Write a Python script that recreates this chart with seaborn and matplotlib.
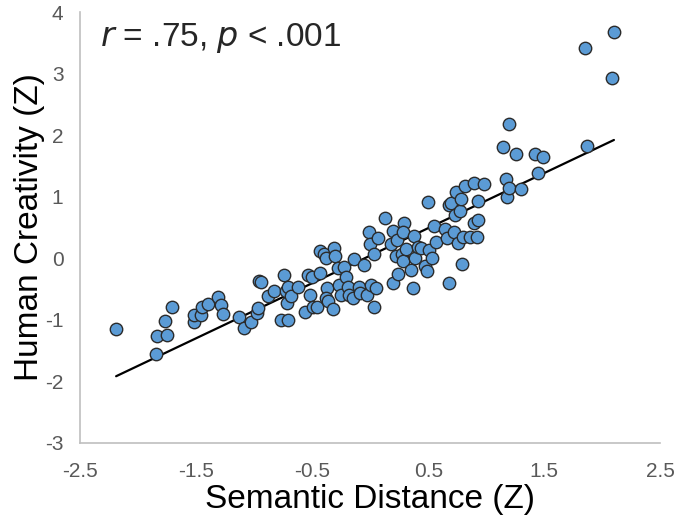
"""
Dispersão: distância semântica vs. criatividade humana (escores Z).
"""

import numpy as np
import pandas as pd
import matplotlib
matplotlib.use("Agg")
import matplotlib.pyplot as plt
import seaborn as sns

# Valores
semantic_distance = [
    -2.19, -1.84, -1.75, -1.77, -1.71, -1.85, -1.52, -1.52, -1.46, -1.45,
    -1.40, -1.31, -1.29, -1.27, -1.13, -1.09, -1.03, -0.98, -0.97, -0.96,
    -0.94, -0.88, -0.83, -0.77, -0.71, -0.74, -0.73, -0.72, -0.71, -0.68,
    -0.62, -0.56, -0.54, -0.52, -0.50, -0.49, -0.46, -0.43, -0.43, -0.40,
    -0.38, -0.37, -0.38, -0.36, -0.32, -0.31, -0.30, -0.28, -0.27, -0.25,
    -0.23, -0.21, -0.19, -0.18, -0.15, -0.14, -0.10, -0.09, -0.05, -0.03,
    -0.01, 0.00, 0.01, 0.03, 0.03, 0.05, 0.07, 0.13, 0.18, 0.20,
    0.20, 0.22, 0.23, 0.24, 0.27, 0.28, 0.29, 0.28, 0.31, 0.35,
    0.37, 0.38, 0.39, 0.41, 0.44, 0.47, 0.49, 0.50, 0.51, 0.53,
    0.55, 0.57, 0.64, 0.66, 0.68, 0.68, 0.70, 0.72, 0.73, 0.74,
    0.76, 0.77, 0.78, 0.79, 0.82, 0.80, 0.86, 0.89, 0.89, 0.92,
    0.93, 0.93, 0.98, 1.14, 1.17, 1.18, 1.20, 1.20, 1.26, 1.30,
    1.42, 1.45, 1.49, 1.85, 1.87, 2.08, 2.10,
]
human_creativity = [
    -1.15, -1.27, -1.25, -1.02, -0.80, -1.56, -1.04, -0.92, -0.92, -0.80,
    -0.74, -0.63, -0.76, -0.90, -0.96, -1.14, -1.04, -0.89, -0.81, -0.37,
    -0.38, -0.62, -0.54, -1.01, -1.00, -0.27, -0.54, -0.73, -0.46, -0.62,
    -0.46, -0.88, -0.27, -0.60, -0.30, -0.79, -0.80, -0.24, 0.12, 0.07,
    0.01, -0.49, -0.65, -0.70, -0.83, 0.16, 0.03, -0.16, -0.43, -0.59,
    -0.15, -0.30, -0.46, -0.60, -0.65, -0.01, -0.46, -0.57, -0.11, -0.60,
    0.43, 0.23, -0.43, 0.07, -0.79, -0.48, 0.33, 0.66, 0.23, -0.41,
    0.44, 0.03, 0.30, -0.25, 0.07, -0.04, 0.58, 0.42, 0.15, -0.19,
    -0.49, 0.36, 0.00, 0.19, 0.16, -0.12, -0.21, 0.91, 0.14, 0.00,
    0.53, 0.26, 0.47, 0.33, -0.40, 0.86, 0.89, 0.43, 0.70, 1.07,
    0.24, 0.76, 0.96, -0.10, 1.17, 0.35, 0.34, 1.23, 0.57, 0.35,
    0.93, 0.62, 1.21, 1.80, 1.29, 1.00, 1.14, 2.18, 1.70, 1.12,
    1.70, 1.38, 1.64, 3.41, 1.82, 2.93, 3.67,
]
x_ticks = [-2.5, -1.5, -0.5, 0.5, 1.5, 2.5]
y_ticks = [-3, -2, -1, 0, 1, 2, 3, 4]

df = pd.DataFrame({"sd": semantic_distance, "hc": human_creativity})

sns.set_style("white")
plt.rcParams["font.family"] = ["Liberation Sans", "DejaVu Sans"]
plt.rcParams["axes.unicode_minus"] = False

fig = plt.figure(figsize=(6.85, 5.26), dpi=100)
ax = fig.add_axes([0.117, 0.158, 0.847, 0.819])

sns.regplot(
    data=df, x="sd", y="hc", ax=ax, ci=None,
    scatter_kws={"s": 80, "color": "#5b9bd5", "edgecolor": "#2b2b2b",
                 "linewidths": 1.0, "alpha": 1},
    line_kws={"color": "black", "linewidth": 1.6},
)
# pontos acima da linha
ax.collections[0].set_zorder(3)

ax.set_xlim(-2.5, 2.5)
ax.set_ylim(-3, 4)
ax.set_xticks(x_ticks)
ax.set_xticklabels([f"{t:g}" for t in x_ticks])
ax.set_yticks(y_ticks)
ax.set_yticklabels([f"{t:g}" for t in y_ticks])
ax.tick_params(axis="both", length=0, labelsize=15, labelcolor="#595959")
ax.tick_params(axis="x", pad=14)
ax.tick_params(axis="y", pad=12)

for side in ["top", "right"]:
    ax.spines[side].set_visible(False)
for side in ["left", "bottom"]:
    ax.spines[side].set_color("#bfbfbf")
    ax.spines[side].set_linewidth(1.2)

ax.set_xlabel("Semantic Distance (Z)", fontsize=24, color="black", labelpad=2)
ax.set_ylabel("Human Creativity (Z)", fontsize=24, color="black", labelpad=0)

ax.text(0.035, 0.98, r"$\it{r}$ = .75, $\it{p}$ < .001", transform=ax.transAxes,
        fontsize=24, va="top", ha="left")

fig.savefig("out.png", dpi=100)
